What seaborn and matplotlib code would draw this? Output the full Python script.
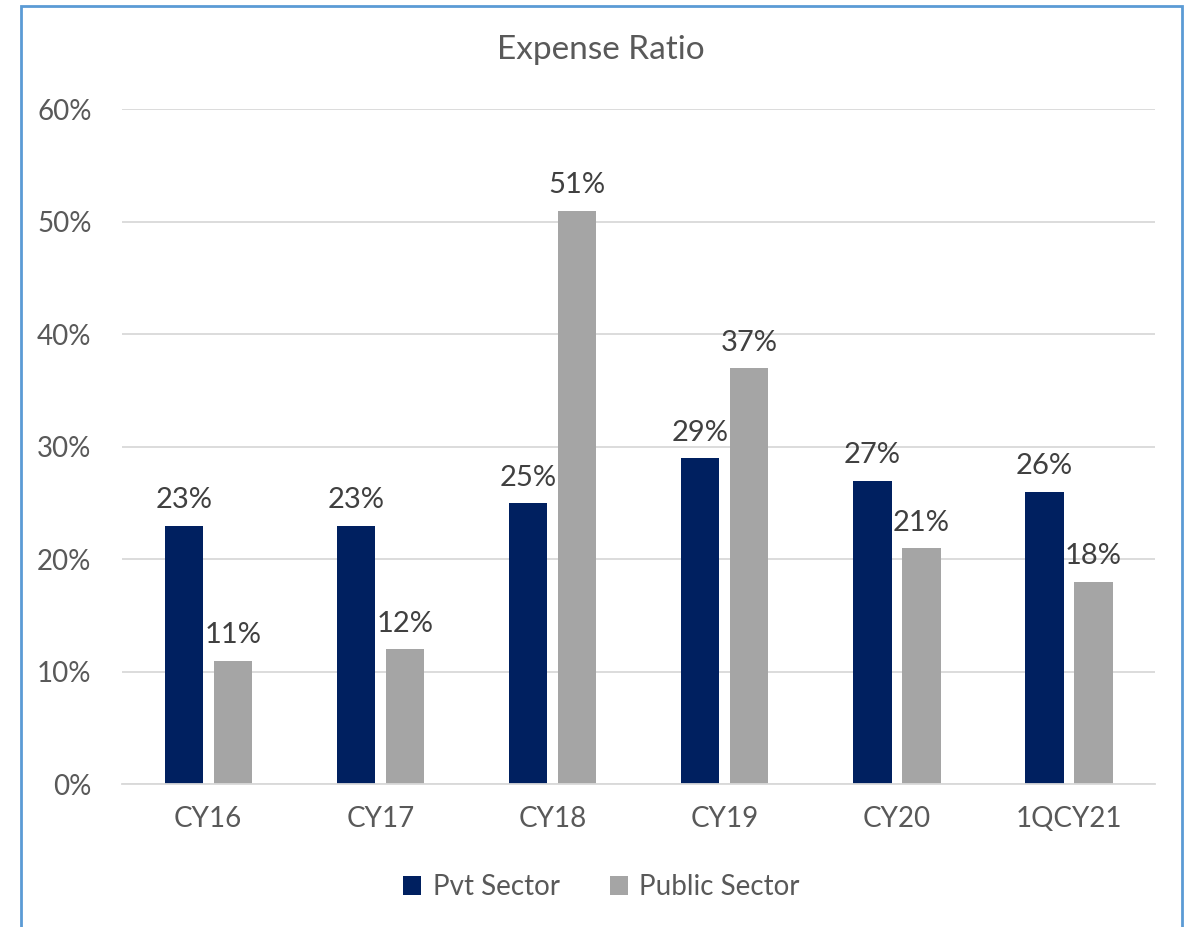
import pandas as pd
import seaborn as sns
import matplotlib.pyplot as plt
from matplotlib.patches import Rectangle
from matplotlib.ticker import PercentFormatter

years = ["CY16", "CY17", "CY18", "CY19", "CY20", "1QCY21"]
pvt_sector = [23, 23, 25, 29, 27, 26]
public_sector = [11, 12, 51, 37, 21, 18]
series = ["Pvt Sector", "Public Sector"]
colors = {"Pvt Sector": "#002060", "Public Sector": "#A5A5A5"}

df = pd.DataFrame({
    "Year": years * 2,
    "Sector": [series[0]] * len(years) + [series[1]] * len(years),
    "Value": pvt_sector + public_sector,
})

sns.set_style("white")
plt.rcParams["font.family"] = ["Lato", "DejaVu Sans"]

fig = plt.figure(figsize=(11.86, 9.27), dpi=100)
ax = fig.add_axes([0.103, 0.154, 0.871, 0.728])

sns.barplot(data=df, x="Year", y="Value", hue="Sector", order=years,
            hue_order=series, palette=colors, width=0.57, gap=0.22,
            saturation=1, linewidth=0, ax=ax, legend=True)

for c in ax.containers:
    ax.bar_label(c, labels=[f"{v:.0f}%" for v in c.datavalues],
                 padding=9, fontsize=21, color="#404040")

ax.set_ylim(0, 60)
ax.set_yticks(range(0, 61, 10))
ax.yaxis.set_major_formatter(PercentFormatter(decimals=0))
ax.set_xlim(-0.5, len(years) - 0.5)
ax.grid(axis="y", color="#D9D9D9", linewidth=1.3)
ax.set_axisbelow(True)
for s in ["left", "right", "top"]:
    ax.spines[s].set_visible(False)
ax.spines["bottom"].set_color("#D9D9D9")
ax.spines["bottom"].set_linewidth(1.3)
ax.tick_params(axis="both", length=0, labelsize=20, labelcolor="#595959")
ax.tick_params(axis="y", pad=22)
ax.tick_params(axis="x", pad=16)
ax.set_xlabel("")
ax.set_ylabel("")

fig.text(0.507, 0.946, "Expense Ratio", ha="center", va="center",
         fontsize=24, color="#595959")

handles, labels = ax.get_legend_handles_labels()
ax.get_legend().remove()
fig.legend(handles, labels, loc="center", bbox_to_anchor=(0.507, 0.043),
           ncol=2, frameon=False, fontsize=20, labelcolor="#595959",
           handlelength=0.65, handleheight=0.65, handletextpad=0.4,
           columnspacing=1.8)

# chart border (Excel style), bottom edge falls outside the picture
fig.patches.append(Rectangle((0.018, -0.02), 0.979, 1.014,
                             transform=fig.transFigure, fill=False,
                             edgecolor="#5B9BD5", linewidth=2))

fig.savefig("out.png", dpi=100)
